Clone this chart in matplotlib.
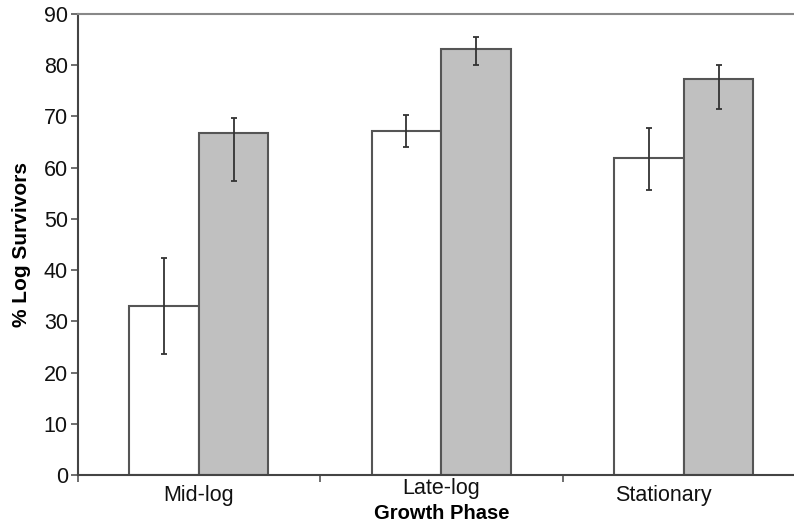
import matplotlib
matplotlib.use("Agg")
import matplotlib.pyplot as plt
import matplotlib.transforms as mtransforms
import numpy as np

plt.rcParams['font.family'] = ['Liberation Sans', 'DejaVu Sans']

categories = ["Mid-log", "Late-log", "Stationary"]
white_vals = [33.0, 67.2, 61.8]
white_err_low = [9.4, 3.1, 6.1]
white_err_high = [9.4, 3.1, 6.0]
gray_vals = [66.8, 83.1, 77.4]
gray_err_low = [9.5, 3.1, 6.0]
gray_err_high = [2.8, 2.5, 2.7]
y_ticks = [0, 10, 20, 30, 40, 50, 60, 70, 80, 90]

fig = plt.figure(figsize=(7.94, 5.27), dpi=100)
ax = fig.add_axes([77.5/794, 52/527, (805-77.5)/794, (475-14)/527])

x = np.arange(len(categories)) + 0.5
w = 0.287
edge = "#555555"
ax.bar(x - w/2, white_vals, width=w, color="white", edgecolor=edge, linewidth=1.5, zorder=2)
ax.bar(x + w/2, gray_vals, width=w, color="#c0c0c0", edgecolor=edge, linewidth=1.5, zorder=2)
ax.errorbar(x - w/2, white_vals, yerr=[white_err_low, white_err_high], fmt='none',
            ecolor="#333333", elinewidth=1.3, capsize=2, capthick=1.3, zorder=3)
ax.errorbar(x + w/2, gray_vals, yerr=[gray_err_low, gray_err_high], fmt='none',
            ecolor="#333333", elinewidth=1.3, capsize=2, capthick=1.3, zorder=3)

ax.set_xlim(0, 3)
ax.set_ylim(0, 90)
ax.set_yticks(y_ticks)
ax.set_yticklabels([str(t) for t in y_ticks], fontsize=15.5, color="#111111")
ax.set_xticks([0, 1, 2, 3])
ax.set_xticklabels([])
label_pos = x + np.array([0.0, 0.0, -0.086])
ax.set_xticks(label_pos, minor=True)
ax.set_xticklabels(categories, minor=True, fontsize=15.5, color="#111111")
ax.tick_params(axis='x', which='minor', length=0, pad=7)
ax.tick_params(axis='x', which='major', length=5, width=1.2, color="#555555", direction='out')
ax.tick_params(axis='y', length=5, width=1.2, color="#555555", direction='out', pad=2)

# Late-log label sits slightly higher in the reference
lbls = ax.get_xticklabels(minor=True)
lbls[1].set_transform(lbls[1].get_transform() +
                      mtransforms.ScaledTranslation(0, 5/72, fig.dpi_scale_trans))

ax.spines['right'].set_visible(False)
ax.spines['top'].set_color("#888888")
ax.spines['top'].set_linewidth(1.5)
for s in ['left', 'bottom']:
    ax.spines[s].set_color("#444444")
    ax.spines[s].set_linewidth(1.5)

ax.set_ylabel("% Log Survivors", fontsize=15, fontweight='bold')
ax.yaxis.set_label_coords((31 - 77.5) / 727.5, 0.5)
ax.set_xlabel("Growth Phase", fontsize=14.5, fontweight='bold')
ax.xaxis.set_label_coords(0.5, (475 - 504) / 461)

fig.savefig("out.png", dpi=100)
